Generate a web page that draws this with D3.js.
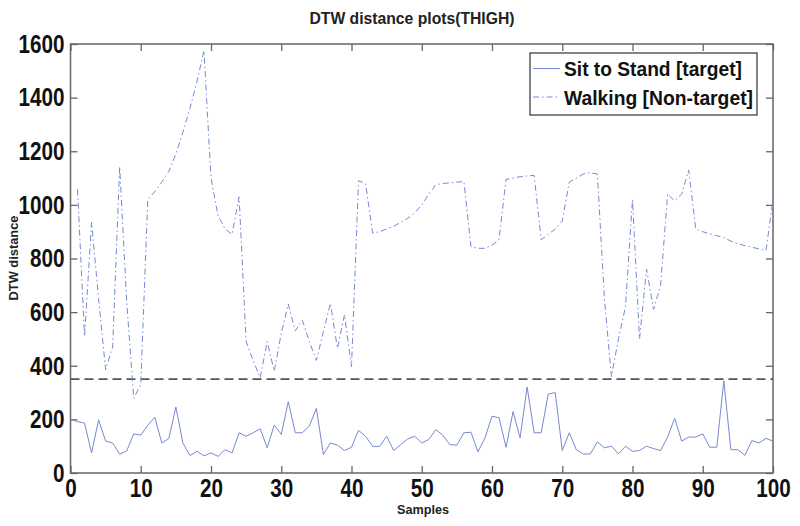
<!DOCTYPE html>
<html>
<head>
<meta charset="utf-8">
<script src="https://cdn.jsdelivr.net/npm/d3@7/dist/d3.min.js"></script>
<style>
  html, body { margin: 0; padding: 0; background: #fff; }
  svg { display: block; }
  text { font-family: "Liberation Sans", Arial, sans-serif; }
</style>
</head>
<body>
<svg id="chart" width="800" height="526"></svg>
<script>
// ---- Data ----
const xTicks = [0, 10, 20, 30, 40, 50, 60, 70, 80, 90, 100];
const yTicks = [0, 200, 400, 600, 800, 1000, 1200, 1400, 1600];
const threshold = 350;
const seriesNames = ["Sit to Stand [target]", "Walking [Non-target]"];

// Sit to Stand (samples 0..100)
const sitToStand = [
  200, 192, 186, 75, 198, 119, 112, 70, 82, 146,
  141, 178, 208, 112, 129, 246, 112, 65, 81, 64,
  75, 62, 87, 75, 150, 137, 150, 165, 94, 179,
  144, 266, 150, 150, 175, 241, 69, 112, 104, 84,
  96, 159, 137, 100, 99, 137, 84, 106, 127, 137,
  112, 125, 162, 141, 106, 104, 150, 152, 79, 131,
  212, 206, 96, 229, 131, 321, 150, 150, 294, 300,
  84, 150, 87, 71, 71, 116, 94, 100, 71, 100,
  81, 84, 100, 91, 84, 134, 204, 119, 134, 134,
  146, 96, 96, 344, 87, 87, 66, 121, 112, 129,
  119
];
// Walking (samples 1..100)
const walking = [
  1058, 509, 935, 650, 385, 470, 1143, 640, 279, 330,
  1019, 1050, 1085, 1125, 1190, 1270, 1360, 1460, 1575, 1100,
  960, 910, 890, 1030, 490, 420, 355, 490, 380, 520,
  630, 530, 570, 490, 420, 527, 633, 465, 590, 397,
  1090, 1080, 895, 900, 910, 920, 935, 950, 970, 1000,
  1040, 1075, 1080, 1082, 1085, 1087, 845, 838, 838, 850,
  870, 1095, 1100, 1105, 1108, 1110, 870, 890, 910, 940,
  1085, 1100, 1115, 1120, 1115, 650, 360, 500, 620, 1020,
  500, 760, 610, 700, 1040, 1015, 1040, 1130, 910, 900,
  892, 885, 878, 865, 855, 848, 842, 836, 830, 1020
];

// ---- Layout ----
const svg = d3.select("#chart");
const L = 70.5, R = 773, T = 44, B = 473;
const x = d3.scaleLinear().domain([0, 100]).range([L, R]);
const y = d3.scaleLinear().domain([0, 1600]).range([B, T]);

const lineColor = "#7689d4";
const axisColor = "#666";
const digitW = 11.5;

// Frame
svg.append("rect").attr("x", L).attr("y", T).attr("width", R - L).attr("height", B - T)
  .attr("fill", "none").attr("stroke", axisColor).attr("stroke-width", 1.5);

function styleAxis(g, withLabels) {
  g.select(".domain").remove();
  g.selectAll(".tick line").attr("stroke", axisColor).attr("stroke-width", 1.3);
  if (!withLabels) g.selectAll(".tick text").remove();
  else g.selectAll(".tick text")
    .attr("fill", "#111")
    .style("font-size", "26px").style("font-weight", "bold")
    .attr("textLength", function() { return this.textContent.length * digitW; })
    .attr("lengthAdjust", "spacingAndGlyphs");
}

svg.append("g").attr("transform", `translate(0,${B})`)
  .call(d3.axisBottom(x).tickValues(xTicks).tickSizeInner(-7).tickSizeOuter(0).tickPadding(6).tickFormat(d3.format("d")))
  .call(g => styleAxis(g, true));
svg.append("g").attr("transform", `translate(0,${T})`)
  .call(d3.axisTop(x).tickValues(xTicks).tickSizeInner(-7).tickSizeOuter(0))
  .call(g => styleAxis(g, false));
svg.append("g").attr("transform", `translate(${L},0)`)
  .call(d3.axisLeft(y).tickValues(yTicks).tickSizeInner(-7).tickSizeOuter(0).tickPadding(6).tickFormat(d3.format("d")))
  .call(g => styleAxis(g, true));
svg.append("g").attr("transform", `translate(${R},0)`)
  .call(d3.axisRight(y).tickValues(yTicks).tickSizeInner(-7).tickSizeOuter(0))
  .call(g => styleAxis(g, false));

// Threshold line
svg.append("line")
  .attr("x1", x(0)).attr("x2", x(100)).attr("y1", y(threshold)).attr("y2", y(threshold))
  .attr("stroke", "#555").attr("stroke-width", 1.6).attr("stroke-dasharray", "9,5");

// Lines
const line = d3.line().x(d => x(d[0])).y(d => y(d[1]));
svg.append("path").datum(sitToStand.map((v, i) => [i, v]))
  .attr("d", line).attr("fill", "none").attr("stroke", lineColor).attr("stroke-width", 1);
svg.append("path").datum(walking.map((v, i) => [i + 1, v]))
  .attr("d", line).attr("fill", "none").attr("stroke", lineColor).attr("stroke-width", 1)
  .attr("stroke-dasharray", "6,3,1.5,3");

// Title and axis titles
svg.append("text").attr("x", 412).attr("y", 24).attr("text-anchor", "middle")
  .style("font-size", "16px").style("font-weight", "bold").attr("fill", "#222")
  .attr("textLength", 205).attr("lengthAdjust", "spacingAndGlyphs")
  .text("DTW distance plots(THIGH)");
svg.append("text").attr("x", 423).attr("y", 514).attr("text-anchor", "middle")
  .style("font-size", "12px").style("font-weight", "bold").attr("fill", "#222")
  .attr("textLength", 52).attr("lengthAdjust", "spacingAndGlyphs")
  .text("Samples");
svg.append("text").attr("transform", "translate(18,258) rotate(-90)").attr("text-anchor", "middle")
  .style("font-size", "12px").style("font-weight", "bold").attr("fill", "#222")
  .attr("textLength", 85).attr("lengthAdjust", "spacingAndGlyphs")
  .text("DTW distance");

// Legend
const lg = svg.append("g");
lg.append("rect").attr("x", 530).attr("y", 53).attr("width", 227).attr("height", 62)
  .attr("fill", "#fff").attr("stroke", "#333").attr("stroke-width", 1.2);
const rows = [
  { name: seriesNames[0], dash: null, yy: 68.5, w: 178 },
  { name: seriesNames[1], dash: "6,3,1.5,3", yy: 97, w: 189 }
];
rows.forEach(r => {
  lg.append("line").attr("x1", 533).attr("x2", 560).attr("y1", r.yy).attr("y2", r.yy)
    .attr("stroke", lineColor).attr("stroke-width", 1)
    .attr("stroke-dasharray", r.dash);
  lg.append("text").attr("x", 564).attr("y", r.yy + 7.5)
    .style("font-size", "20px").style("font-weight", "bold").attr("fill", "#111")
    .attr("textLength", r.w).attr("lengthAdjust", "spacingAndGlyphs")
    .text(r.name);
});
</script>
</body>
</html>
